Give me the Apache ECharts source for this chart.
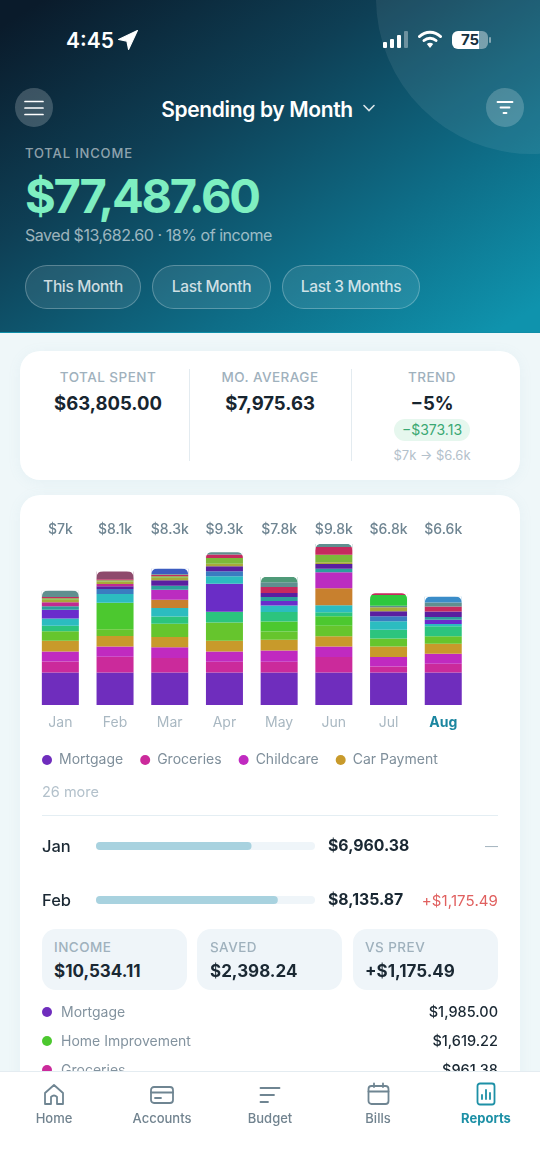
<!DOCTYPE html>
<html>
<head>
<meta charset="utf-8">
<title>Spending by Month</title>
<script src="https://cdn.jsdelivr.net/npm/echarts@6/dist/echarts.min.js"></script>
<style>
  html, body { margin: 0; padding: 0; }
  body { width: 540px; height: 1173px; overflow: hidden; position: relative; background: #eff7f9; font-family: Inter, "Noto Sans", sans-serif; color: #1a2833; }
  .abs { position: absolute; white-space: nowrap; line-height: 1; }
  .mid { transform: translateY(-50%); }
  .ctr { transform: translate(-50%, -50%); text-align: center; }
  .rgt { transform: translateY(-50%); text-align: right; }
  #header { position: absolute; left: 0; top: 0; width: 540px; height: 333px; overflow: hidden; background: linear-gradient(148deg, #0a1b2b 4%, #0e3f55 36%, #0e6c86 68%, #0f93ad 96%); border-bottom: 1px solid #0f8ea8; box-sizing: border-box; }
  #blob { position: absolute; left: 376px; top: -158px; width: 312px; height: 312px; border-radius: 50%; background: rgba(255,255,255,.075); }
  .round { position: absolute; width: 38px; height: 39px; border-radius: 50%; background: rgba(255,255,255,.2); }
  .pill { position: absolute; top: 265px; height: 44px; border-radius: 22px; border: 1.5px solid rgba(255,255,255,.25); background: rgba(255,255,255,.09); box-sizing: border-box; color: rgba(255,255,255,.78); font-size: 15.5px; font-weight: 500; letter-spacing: -.35px; text-align: center; line-height: 42px; }
  .card { position: absolute; left: 20px; width: 500px; background: #fff; border-radius: 20px; box-shadow: 0 2px 14px rgba(120,170,190,.08); }
  .vline { position: absolute; width: 1px; background: #e3ebf0; top: 369px; height: 92px; }
  .lbl { color: #9fb1bd; font-size: 13.5px; font-weight: 500; letter-spacing: .45px; }
  .val { font-size: 18.5px; font-weight: 700; color: #17252f; }
  .tile { position: absolute; top: 929px; height: 61px; border-radius: 14px; background: #eff5f9; }
  .dot { position: absolute; width: 10px; height: 10px; border-radius: 50%; left: 42px; }
  #nav { position: absolute; left: 0; top: 1071px; width: 540px; height: 102px; background: #fff; border-top: 1px solid #e4ecf1; box-sizing: border-box; }
  .tab { color: #71838f; font-size: 13px; font-weight: 500; }
  #nav svg { position: absolute; fill: none; stroke: #6f8592; stroke-width: 1.8; stroke-linecap: round; stroke-linejoin: round; }
</style>
</head>
<body>
<div class="card" style="top:351px;height:129px"></div>
<div class="card" style="top:495px;height:620px"></div>
<div id="chart" style="position:absolute;left:20px;top:495px;width:500px;height:435px"></div>

<div id="header">
  <div id="blob"></div>
  <div class="abs mid" style="left:66px;top:40px;color:#fff;font-size:21px;font-weight:600">4:45</div>
  <svg class="abs" style="left:118px;top:30px" width="20" height="20" viewBox="0 0 18 18"><path d="M17.5 0.5 L0.5 8.5 L8 10 L9.5 17.5 Z" fill="#fff" stroke="#fff" stroke-width="1" stroke-linejoin="round"/></svg>
  <svg class="abs" style="left:382px;top:30px" width="28" height="20" viewBox="0 0 28 20"><rect x="1" y="12" width="4" height="6" rx="1" fill="#fff"/><rect x="8" y="9" width="4" height="9" rx="1" fill="#fff"/><rect x="15" y="5" width="4" height="13" rx="1" fill="#fff"/><rect x="22" y="1" width="4" height="17" rx="1" fill="rgba(255,255,255,.35)"/></svg>
  <svg class="abs" style="left:418px;top:29px" width="24" height="20" viewBox="0 0 24 20"><path d="M1.5 7.5 A15 15 0 0 1 22.5 7.5" stroke="#fff" stroke-width="3" fill="none" stroke-linecap="round"/><path d="M6 11.5 A9 9 0 0 1 18 11.5" stroke="#fff" stroke-width="3" fill="none" stroke-linecap="round"/><path d="M12 19 L8.8 15 A5 5 0 0 1 15.2 15 Z" fill="#fff"/></svg>
  <div class="abs" style="left:452px;top:31px;width:36px;height:18px;border-radius:6px;background:linear-gradient(90deg,#fff 75%,rgba(255,255,255,.4) 75%);color:#16303e;font-size:15px;font-weight:700;text-align:center;line-height:18px">75</div>
  <div class="abs" style="left:489px;top:37px;width:2px;height:6px;border-radius:1px;background:rgba(255,255,255,.45)"></div>

  <div class="round" style="left:15px;top:88px"></div>
  <svg class="abs" style="left:23px;top:99px" width="22" height="18" viewBox="0 0 22 18"><path d="M2 2.5 H20 M2 9 H20 M2 15.5 H20" stroke="#fff" stroke-width="1.7" stroke-linecap="round"/></svg>
  <div class="abs ctr" style="left:257px;top:109px;color:#fff;font-size:21px;font-weight:600;letter-spacing:-.35px">Spending by Month</div>
  <svg class="abs" style="left:362px;top:104px" width="14" height="9" viewBox="0 0 14 9"><path d="M2 1.5 L7 6.5 L12 1.5" stroke="rgba(255,255,255,.85)" stroke-width="1.6" fill="none" stroke-linecap="round"/></svg>
  <div class="round" style="left:486px;top:88px"></div>
  <svg class="abs" style="left:496px;top:100px" width="18" height="15" viewBox="0 0 18 15"><path d="M1.5 2 H16.5 M4.5 7.5 H13.5 M7.5 13 H10.5" stroke="#fff" stroke-width="1.8" stroke-linecap="round"/></svg>

  <div class="abs mid" style="left:25px;top:153px;color:rgba(255,255,255,.55);font-size:13px;font-weight:500;letter-spacing:.85px">TOTAL INCOME</div>
  <div class="abs mid" style="left:25px;top:195px;color:#7eefc1;font-size:47px;font-weight:700;letter-spacing:-2.3px">$77,487.60</div>
  <div class="abs mid" style="left:25px;top:235px;color:rgba(255,255,255,.6);font-size:16px;letter-spacing:-.45px">Saved $13,682.60 · 18% of income</div>
  <div class="pill" style="left:25px;width:116px">This Month</div>
  <div class="pill" style="left:152px;width:119px">Last Month</div>
  <div class="pill" style="left:282px;width:138px">Last 3 Months</div>
</div>

<div class="abs ctr lbl" style="left:108px;top:378px">TOTAL SPENT</div>
<div class="abs ctr val" style="left:108px;top:403px">$63,805.00</div>
<div class="vline" style="left:189px"></div>
<div class="abs ctr lbl" style="left:270px;top:378px">MO. AVERAGE</div>
<div class="abs ctr val" style="left:270px;top:403px">$7,975.63</div>
<div class="vline" style="left:351px"></div>
<div class="abs ctr lbl" style="left:432px;top:378px">TREND</div>
<div class="abs ctr val" style="left:432px;top:403px">−5%</div>
<div class="abs" style="left:394px;top:419px;width:76px;height:22px;border-radius:11px;background:#e6f7ee;color:#3aa873;font-size:14px;text-align:center;line-height:22px">−$373.13</div>
<div class="abs ctr" style="left:432px;top:455px;color:#b3c1cb;font-size:13px">$7k → $6.6k</div>

<div class="abs mid" style="left:42px;top:792px;color:#b3c1cb;font-size:14.5px">26 more</div>
<div class="abs" style="left:42px;top:815px;width:456px;height:1px;background:#e4eef3"></div>

<div id="rows"></div>

<div class="tile" style="left:42px;width:145px"></div>
<div class="abs mid lbl" style="left:54px;top:948px">INCOME</div>
<div class="abs mid" style="left:54px;top:971px;font-size:17px;font-weight:700">$10,534.11</div>
<div class="tile" style="left:197px;width:145px"></div>
<div class="abs mid lbl" style="left:210px;top:948px">SAVED</div>
<div class="abs mid" style="left:210px;top:971px;font-size:17px;font-weight:700">$2,398.24</div>
<div class="tile" style="left:353px;width:145px"></div>
<div class="abs mid lbl" style="left:365px;top:948px">VS PREV</div>
<div class="abs mid" style="left:365px;top:971px;font-size:17px;font-weight:700">+$1,175.49</div>

<div id="list"></div>

<div id="nav">
  <svg style="left:43px;top:11px" width="22" height="24" viewBox="0 0 22 24"><path d="M2 21 V10 L11 2 L20 10 V21 H14 V14 Q11 11 8 14 V21 Z"/></svg>
  <div class="abs ctr tab" style="left:54px;top:46px">Home</div>
  <svg style="left:150px;top:13px" width="24" height="20" viewBox="0 0 24 20"><rect x="1" y="2" width="22" height="16" rx="3"/><path d="M1 7.5 H23 M5 13 H11"/></svg>
  <div class="abs ctr tab" style="left:162px;top:46px">Accounts</div>
  <svg style="left:259px;top:13px" width="22" height="20" viewBox="0 0 22 20"><path d="M1.5 3 H20.5 M1.5 10 H15 M1.5 17 H9"/></svg>
  <div class="abs ctr tab" style="left:270px;top:46px">Budget</div>
  <svg style="left:367px;top:10px" width="23" height="24" viewBox="0 0 23 24"><rect x="1.5" y="4" width="20" height="18" rx="3"/><path d="M1.5 9.5 H21.5 M7 1.5 V5 M16 1.5 V5"/></svg>
  <div class="abs ctr tab" style="left:378px;top:46px">Bills</div>
  <svg style="left:476px;top:10px;stroke:#1d90a6" width="20" height="24" viewBox="0 0 20 24"><rect x="1.5" y="1.5" width="17" height="21" rx="2.5"/><path d="M6 17 V13 M10 17 V8 M14 17 V11"/></svg>
  <div class="abs ctr tab" style="left:486px;top:46px;color:#1d90a6;font-weight:700">Reports</div>
</div>

<script>
const months = ['Jan', 'Feb', 'Mar', 'Apr', 'May', 'Jun', 'Jul', 'Aug'];
const totalLabels = ['$7k', '$8.1k', '$8.3k', '$9.3k', '$7.8k', '$9.8k', '$6.8k', '$6.6k'];
const currentMonth = 'Aug';

// stacked categories, bottom to top. only the first few names show in the picture
const mortgage = [1985, 1985, 1985, 1985, 1985, 1985, 1985, 1985];
const groceries = [670, 961, 875, 650, 650, 935, 365, 530];
const childcare = [610, 610, 650, 630, 690, 650, 570, 610];
const carPayment = [650, 650, 630, 650, 650, 610, 650, 610];
const lime = [570, 405, 810, 1115, 505, 650, 485, 445];
const homeImprovement = [0, 1619, 0, 0, 610, 570, 0, 0];
const seaGreen = [345, 0, 445, 650, 570, 245, 530, 610];
const violetA = [0, 0, 0, 1700, 0, 0, 0, 0];
const cyan = [445, 530, 510, 465, 405, 425, 510, 140];
const orange = [0, 0, 510, 0, 0, 1035, 0, 0];
const orchid = [0, 0, 610, 0, 0, 975, 0, 0];
const violetB = [530, 0, 0, 0, 265, 0, 0, 265];
const teal = [205, 0, 245, 0, 245, 225, 0, 160];
const steel = [0, 305, 0, 305, 0, 0, 305, 0];
const purple = [0, 160, 325, 305, 245, 285, 305, 345];
const magenta = [245, 140, 0, 0, 0, 0, 0, 0];
const olive = [160, 160, 160, 140, 0, 100, 245, 0];
const leaf = [80, 80, 80, 365, 0, 465, 0, 0];
const crimson = [80, 60, 100, 205, 365, 465, 0, 305];
const grayTeal = [385, 0, 40, 135, 285, 180, 100, 245];
const fern = [0, 0, 0, 0, 330, 0, 0, 0];
const emerald = [0, 0, 0, 0, 0, 0, 650, 0];
const crimsonTop = [0, 0, 0, 0, 0, 0, 100, 0];
const skyBlue = [0, 0, 0, 0, 0, 0, 0, 350];
const dustyRose = [0, 471, 0, 0, 0, 0, 0, 0];
const indigo = [0, 0, 325, 0, 0, 0, 0, 0];

const stackNames = ['Mortgage', 'Groceries', 'Childcare', 'Car Payment', 'Lime', 'Home Improvement', 'Sea Green', 'Violet A', 'Cyan', 'Orange', 'Orchid', 'Violet B', 'Teal', 'Steel', 'Purple', 'Magenta', 'Olive', 'Leaf', 'Crimson', 'Gray Teal', 'Fern', 'Emerald', 'Crimson Top', 'Sky Blue', 'Dusty Rose', 'Indigo'];
const stackValues = [mortgage, groceries, childcare, carPayment, lime, homeImprovement, seaGreen, violetA, cyan, orange, orchid, violetB, teal, steel, purple, magenta, olive, leaf, crimson, grayTeal, fern, emerald, crimsonTop, skyBlue, dustyRose, indigo];
const stackColors = ['#6f2dbd', '#cb2a9b', '#c02ac0', '#c89a2b', '#66c52d', '#4cc82f', '#2cc47e', '#6a2dc6', '#2cbcc0', '#c8802e', '#bb2cc0', '#6a2ccc', '#2c9f9c', '#3a7cc0', '#5a1fa0', '#c02a90', '#a8a83a', '#7cb83a', '#c62a5e', '#5f8f8f', '#4f9a78', '#2ec83e', '#c62a5e', '#3a8cc8', '#8e4a6c', '#3c5cc0'];
const legendNames = ['Mortgage', 'Groceries', 'Childcare', 'Car Payment'];

// month rows under the chart
const rowMonths = ['Jan', 'Feb'];
const rowTotals = [6960.38, 8135.87];
const rowDeltas = ['—', '+$1,175.49'];
const rowMax = 9800;

const topCategories = ['Mortgage', 'Home Improvement', 'Groceries'];
const topAmounts = ['$1,985.00', '$1,619.22', '$961.38'];
const topColors = ['#6f2dbd', '#4cc82f', '#cb2a9b'];

const fontName = 'Inter';
const money = v => '$' + v.toLocaleString('en-US', { minimumFractionDigits: 2, maximumFractionDigits: 2 });

// html rows and list next to the bars
let rowHtml = '';
rowMonths.forEach((m, i) => {
    const y = 846 + i * 54;
    rowHtml += '<div class="abs mid" style="left:42px;top:' + y + 'px;font-size:16.5px;font-weight:500">' + m + '</div>';
    rowHtml += '<div class="abs mid" style="left:328px;top:' + y + 'px;font-size:15.8px;font-weight:700">' + money(rowTotals[i]) + '</div>';
    const deltaStyle = i === 0 ? 'color:#a9b8c2;font-size:13px' : 'color:#e0605f;font-size:15px;letter-spacing:.1px';
    rowHtml += '<div class="abs rgt" style="right:42px;top:' + y + 'px;' + deltaStyle + '">' + rowDeltas[i] + '</div>';
});
document.getElementById('rows').innerHTML = rowHtml;

let listHtml = '';
topCategories.forEach((name, i) => {
    const y = 1011.5 + i * 29;
    listHtml += '<div class="dot" style="top:' + (y - 5) + 'px;background:' + topColors[i] + '"></div>';
    listHtml += '<div class="abs mid" style="left:61px;top:' + y + 'px;font-size:14px;color:#83939f">' + name + '</div>';
    listHtml += '<div class="abs rgt" style="right:42px;top:' + y + 'px;font-size:14.5px;font-weight:500">' + topAmounts[i] + '</div>';
});
document.getElementById('list').innerHTML = listHtml;

const barWidth = 37;
const cornerRadius = 7;
const stackTotals = months.map((m, i) => stackValues.reduce((sum, vals) => sum + vals[i], 0));

// white corner masks so the top of each stack is rounded, whatever segment lands there
function renderCorners(params, api) {
    const p = api.coord([api.value(0), api.value(1)]);
    const l = p[0] - barWidth / 2, r = p[0] + barWidth / 2, t = p[1] - 0.5, c = cornerRadius;
    const fill = { fill: '#fff' };
    return {
        type: 'group',
        children: [
            { type: 'path', shape: { pathData: `M${l} ${t}L${l + c} ${t}Q${l} ${t} ${l} ${t + c}Z` }, style: fill },
            { type: 'path', shape: { pathData: `M${r} ${t}L${r - c} ${t}Q${r} ${t} ${r} ${t + c}Z` }, style: fill }
        ]
    };
}

const series = stackNames.map((name, i) => ({
    name: name,
    type: 'bar',
    stack: 'spend',
    xAxisIndex: 0,
    yAxisIndex: 0,
    barWidth: barWidth,
    itemStyle: { color: stackColors[i] },
    data: stackValues[i]
}));
series.push({
    type: 'custom',
    xAxisIndex: 0,
    yAxisIndex: 0,
    silent: true,
    z: 5,
    clip: false,
    renderItem: renderCorners,
    data: stackTotals.map((t, i) => [i, t])
});
series.push({
    type: 'bar',
    xAxisIndex: 2,
    yAxisIndex: 1,
    barWidth: 8,
    showBackground: true,
    backgroundStyle: { color: '#eff5f9', borderRadius: 4 },
    itemStyle: { color: '#a8d2df', borderRadius: 4 },
    data: rowTotals
});

const chart = echarts.init(document.getElementById('chart'));
chart.setOption({
    animation: false,
    textStyle: { fontFamily: fontName },
    legend: {
        data: legendNames,
        selectedMode: false,
        left: 17,
        top: 253,
        icon: 'circle',
        itemWidth: 10,
        itemHeight: 10,
        itemGap: 17,
        textStyle: { fontFamily: fontName, fontSize: 14, color: '#7f8f9b', padding: [0, 0, 0, 2] }
    },
    grid: [
        { left: 13, width: 437.6, top: 45.8, height: 164.2 },
        { left: 76, width: 219, top: 324, height: 108 }
    ],
    xAxis: [
        {
            type: 'category',
            gridIndex: 0,
            data: months,
            axisLine: { show: false },
            axisTick: { show: false },
            axisLabel: {
                interval: 0,
                margin: 11,
                fontSize: 14,
                color: '#a9b8c2',
                formatter: v => (v === currentMonth ? '{cur|' + v + '}' : v),
                rich: { cur: { fontSize: 14, fontWeight: 700, color: '#1b86a0', fontFamily: fontName } }
            }
        },
        {
            type: 'category',
            gridIndex: 0,
            position: 'top',
            data: totalLabels,
            axisLine: { show: false },
            axisTick: { show: false },
            axisLabel: { interval: 0, margin: 4, fontSize: 14, fontWeight: 500, color: '#6f8592' }
        },
        { type: 'value', gridIndex: 1, min: 0, max: rowMax, show: false }
    ],
    yAxis: [
        { type: 'value', gridIndex: 0, min: 0, max: 10000, show: false },
        { type: 'category', gridIndex: 1, inverse: true, data: rowMonths, show: false }
    ],
    series: series
});
window.addEventListener('resize', () => chart.resize());
</script>
</body>
</html>
